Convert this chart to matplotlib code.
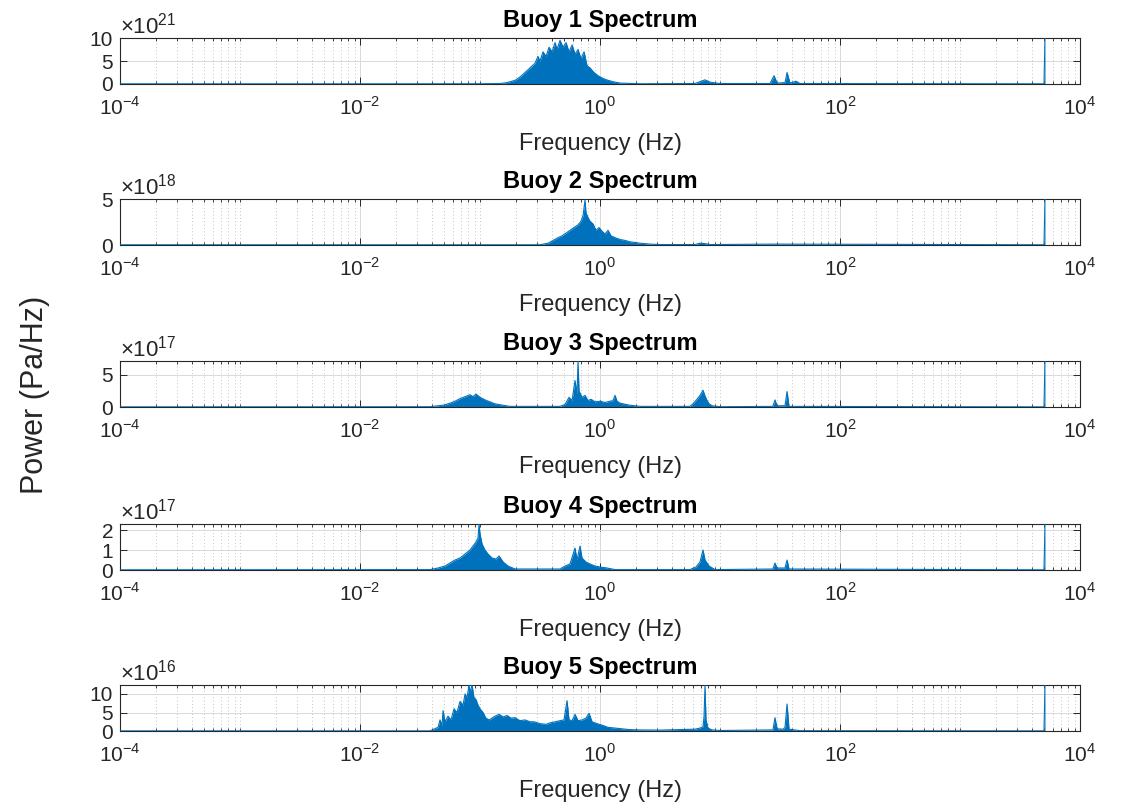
import matplotlib
matplotlib.use("Agg")
import matplotlib.pyplot as plt
from matplotlib.ticker import FixedLocator, NullFormatter

plt.rcParams['font.family'] = ['Liberation Sans', 'DejaVu Sans']
plt.rcParams['mathtext.fontset'] = 'custom'
plt.rcParams['mathtext.rm'] = 'Liberation Sans'

# ---------------- data (frequency in Hz, power mantissa x 10^exp Pa/Hz) ----------------
titles = ["Buoy 1 Spectrum", "Buoy 2 Spectrum", "Buoy 3 Spectrum", "Buoy 4 Spectrum", "Buoy 5 Spectrum"]
exponents = [21, 18, 17, 17, 16]
ymax = [10.0, 5.0, 7.1, 2.3, 12.4]
yticks = [[0, 5, 10], [0, 5], [0, 5], [0, 1, 2], [0, 5, 10]]
xtick_labels = [r"$10^{-4}$", r"$10^{-2}$", r"$10^{0}$", r"$10^{2}$", r"$10^{4}$"]
xticks = [1e-4, 1e-2, 1e0, 1e2, 1e4]

buoy1_freq = [1e-4, 0.01, 0.1, 0.147, 0.168, 0.196, 0.215, 0.237, 0.261, 0.287, 0.304, 0.316,
              0.335, 0.355, 0.376, 0.398, 0.422, 0.438, 0.464, 0.492, 0.521, 0.552, 0.585,
              0.619, 0.656, 0.695, 0.736, 0.779, 0.825, 0.891, 0.962, 1.059, 1.166, 1.283,
              1.468, 2.154, 6.19, 6.81, 7.50, 8.25, 10.0, 26.1, 28.2, 29.9, 34.8, 36.2, 38.3,
              43.0, 46.4, 5012, 5105]
buoy1_power = [0.04, 0.04, 0.05, 0.1, 0.3, 0.8, 1.5, 2.5, 3.5, 4.5, 6.0, 5.0,
               7.0, 6.0, 8.0, 7.0, 9.0, 7.5, 9.5, 8.0, 9.0, 7.0, 8.5,
               6.5, 7.5, 5.5, 7.0, 4.0, 3.5, 2.5, 1.8, 1.2, 0.8, 0.5,
               0.2, 0.05, 0.1, 0.5, 0.9, 0.4, 0.1, 0.1, 1.8, 0.2, 0.3, 2.5, 0.2,
               0.6, 0.1, 0.04, 10.0]

buoy2_freq = [1e-4, 0.1, 0.316, 0.369, 0.406, 0.447, 0.482, 0.521, 0.562, 0.607, 0.656,
              0.695, 0.722, 0.750, 0.764, 0.794, 0.825, 0.874, 0.926, 0.981, 1.039,
              1.101, 1.166, 1.235, 1.334, 1.468, 1.616, 1.778, 2.154, 2.61, 3.16,
              6.19, 6.81, 7.50, 8.25, 28.7, 5012, 5105]
buoy2_power = [0.03, 0.03, 0.03, 0.2, 0.5, 0.8, 1.0, 1.3, 1.6, 1.9, 2.2,
               2.6, 3.2, 4.9, 3.5, 3.0, 2.6, 2.3, 1.6, 1.9, 1.5,
               1.2, 1.6, 1.0, 0.8, 0.6, 0.5, 0.35, 0.2, 0.1, 0.05,
               0.05, 0.2, 0.15, 0.05, 0.1, 0.03, 5.0]

buoy3_freq = [1e-4, 0.0383, 0.0501, 0.0562, 0.0619, 0.0681, 0.0750, 0.0825, 0.0874, 0.0926,
              0.1, 0.110, 0.121, 0.133, 0.153, 0.178, 0.464, 0.511, 0.552, 0.585, 0.619,
              0.643, 0.656, 0.668, 0.708, 0.750, 0.794, 0.841, 0.909, 1.0, 1.101, 1.212,
              1.283, 1.334, 1.386, 1.468, 1.745, 2.154, 5.62, 5.96, 6.43, 6.81, 7.22, 7.50,
              7.80, 8.10, 8.58, 10.0, 27.6, 28.7, 29.9, 34.8, 36.2, 37.6, 5012, 5105]
buoy3_power = [0.03, 0.05, 0.3, 0.6, 0.9, 1.3, 1.6, 1.9, 1.6, 2.0,
               1.5, 1.1, 0.8, 0.5, 0.3, 0.1, 0.1, 0.4, 1.5, 1.0, 4.1,
               2.0, 7.1, 2.5, 1.5, 1.8, 1.0, 1.2, 0.8, 0.9, 0.7, 0.9,
               1.0, 1.8, 0.9, 0.6, 0.3, 0.1, 0.1, 0.5, 1.2, 1.8, 2.6, 1.7,
               1.0, 0.5, 0.2, 0.05, 0.1, 1.1, 0.2, 0.2, 2.4, 0.1, 0.03, 7.1]

buoy4_freq = [1e-4, 0.0383, 0.0447, 0.0511, 0.0562, 0.0619, 0.0681, 0.0750, 0.0825, 0.0874,
              0.0926, 0.0962, 0.0981, 0.1, 0.104, 0.110, 0.1166, 0.126, 0.136, 0.144, 0.156,
              0.171, 0.196, 0.464, 0.511, 0.562, 0.619, 0.643, 0.681, 0.708, 0.764, 0.825,
              0.909, 1.0, 1.144, 1.334, 5.62, 6.31, 6.81, 7.22, 7.50, 8.10, 9.09, 27.6, 28.7,
              29.9, 34.8, 36.2, 37.6, 5012, 5105]
buoy4_power = [0.01, 0.02, 0.1, 0.2, 0.35, 0.5, 0.6, 0.8, 1.0, 1.2,
               1.4, 1.6, 2.3, 1.8, 1.3, 1.0, 0.8, 0.6, 0.55, 0.7, 0.4,
               0.2, 0.05, 0.05, 0.2, 0.3, 1.1, 0.5, 1.2, 0.6, 0.4, 0.3,
               0.2, 0.15, 0.1, 0.02, 0.02, 0.15, 0.4, 1.0, 0.5, 0.2, 0.02, 0.05, 0.35,
               0.1, 0.1, 0.5, 0.05, 0.01, 2.3]

buoy5_freq = [1e-4, 0.0383, 0.0447, 0.0464, 0.0482, 0.0492, 0.0511, 0.0541, 0.0573, 0.0607,
              0.0643, 0.0681, 0.0722, 0.0750, 0.0779, 0.0810, 0.0825, 0.0858, 0.0891, 0.0926,
              0.0962, 0.1, 0.106, 0.112, 0.119, 0.126, 0.133, 0.144, 0.156, 0.168, 0.181,
              0.196, 0.215, 0.237, 0.261, 0.282, 0.316, 0.355, 0.383, 0.422, 0.464, 0.501,
              0.531, 0.552, 0.585, 0.619, 0.656, 0.708, 0.764, 0.810, 0.858, 0.944, 1.059,
              1.166, 1.334, 1.525, 1.745, 2.154, 3.16, 4.64, 6.19, 6.81, 7.22, 7.36, 7.50,
              7.64, 7.94, 8.58, 10.0, 27.6, 28.7, 29.9, 33.5, 34.8, 36.2, 37.6, 46.4,
              5012, 5105]
buoy5_power = [0.05, 0.05, 1.0, 3.0, 1.5, 5.5, 2.5, 4.0, 3.0, 6.0,
               5.0, 8.0, 7.0, 10.0, 9.0, 12.4, 10.5, 12.4, 9.0, 8.5,
               7.0, 6.0, 5.0, 3.5, 3.0, 3.5, 4.0, 4.5, 3.8, 4.2, 3.5,
               3.6, 2.8, 3.0, 2.5, 2.5, 2.0, 1.8, 2.2, 2.5, 2.8, 3.0,
               8.2, 3.0, 2.8, 4.5, 2.8, 3.0, 3.5, 4.8, 2.5, 2.0, 1.5,
               1.0, 0.8, 0.6, 0.4, 0.3, 0.25, 0.4, 0.5, 0.8, 1.2, 4.0, 12.4,
               3.0, 0.8, 0.3, 0.15, 0.3, 3.6, 0.6, 0.5, 1.0, 7.3, 0.5, 0.1,
               0.05, 12.4]

freqs = [buoy1_freq, buoy2_freq, buoy3_freq, buoy4_freq, buoy5_freq]
powers = [buoy1_power, buoy2_power, buoy3_power, buoy4_power, buoy5_power]

# ---------------- figure ----------------
line_color = "#0072BD"
fig = plt.figure(figsize=(11.25, 8.06), dpi=100)

left, width, height = 0.1067, 0.8533, 0.057
bottoms = [0.8958, 0.6960, 0.4950, 0.2928, 0.0930]

minor_locs = [k * 10.0 ** e for e in range(-4, 4) for k in range(1, 10)
              if not (k == 1 and e % 2 == 0)]

for i in range(5):
    ax = fig.add_axes([left, bottoms[i], width, height])
    f, p = freqs[i], powers[i]
    ax.fill_between(f, 0, p, color=line_color, lw=0, zorder=2)
    ax.plot(f, p, color=line_color, lw=0.8, zorder=3)
    ax.set_xscale("log")
    ax.set_xlim(1e-4, 1e4)
    ax.set_ylim(0, ymax[i])
    ax.xaxis.set_major_locator(FixedLocator(xticks))
    ax.set_xticklabels(xtick_labels)
    ax.xaxis.set_minor_locator(FixedLocator(minor_locs))
    ax.xaxis.set_minor_formatter(NullFormatter())
    ax.set_yticks(yticks[i])
    ax.set_yticklabels([str(t) for t in yticks[i]])
    ax.grid(True, which="major", color="#d9d9d9", lw=0.7, ls="-", zorder=0)
    ax.grid(True, which="minor", axis="x", color="#b0b0b0", lw=0.6, ls=(0, (1, 3)), zorder=0)
    ax.set_axisbelow(True)
    ax.tick_params(which="both", direction="in", top=True, right=True,
                   labelsize=15, colors="#262626")
    ax.tick_params(axis="x", which="major", pad=9)
    ax.tick_params(axis="y", which="major", pad=5)
    ax.tick_params(which="major", length=5, width=0.7)
    ax.tick_params(which="minor", length=2.5, width=0.6)
    for s in ax.spines.values():
        s.set_color("#262626")
        s.set_linewidth(0.8)
    ax.set_title(titles[i], fontsize=17, fontweight="bold", pad=8)
    ax.set_xlabel("Frequency (Hz)", fontsize=17, color="#262626", labelpad=10)
    ax.text(0.0, 1.1, r"$\times10^{%d}$" % exponents[i], transform=ax.transAxes,
            fontsize=16, color="#262626", ha="left", va="baseline")

fig.text(0.031, 0.51, "Power (Pa/Hz)", rotation=90, fontsize=22, color="#262626",
         ha="center", va="center")

fig.savefig("out.png", dpi=100)
